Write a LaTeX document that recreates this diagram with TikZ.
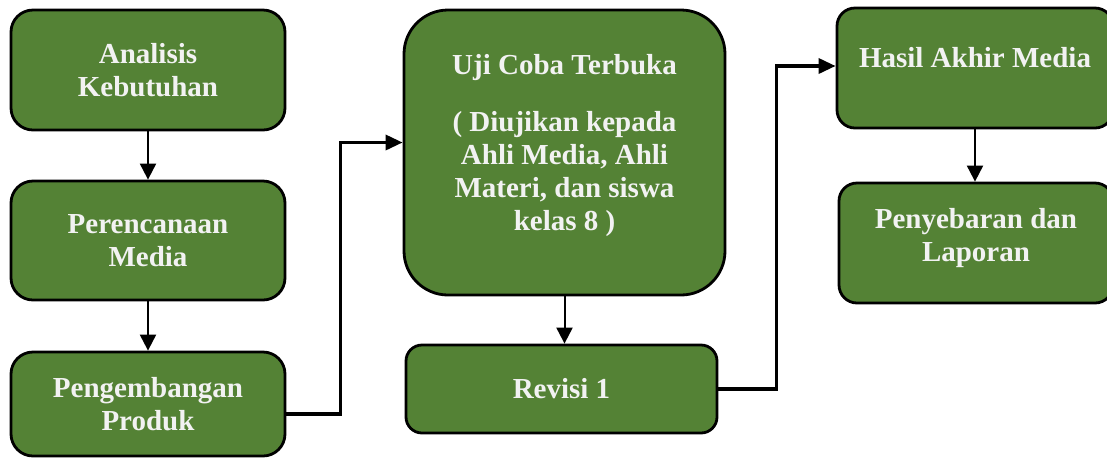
\documentclass[tikz,border=0pt]{standalone}
\usepackage{fontspec}
\setmainfont{Liberation Serif}
\usetikzlibrary{arrows.meta}
\definecolor{boxgreen}{HTML}{548235}
\begin{document}
\begin{tikzpicture}
  [x=0.5pt,y=-0.5pt,
   every node/.style={draw=black,line width=1.4pt,fill=boxgreen,
     text=white!95!black,font=\fontsize{14.5}{16.5}\selectfont\bfseries,
     align=center,inner sep=0pt,rounded corners=11pt},
   thin arrow/.style={line width=1pt,-{Triangle[width=8pt,length=8pt]}},
   thick arrow/.style={line width=1.7pt,-{Triangle[width=7.5pt,length=8.5pt]}}]
\useasboundingbox (0,0) rectangle (1107,457);
\node (ana)[minimum width=137pt,minimum height=60pt] at (148,70) {Analisis\\Kebutuhan};
  \node (ren)[minimum width=137pt,minimum height=59.5pt] at (148,240.5) {Perencanaan\\Media};
  \node (pen)[minimum width=137pt,minimum height=52pt] at (148,404) {Pengembangan\\Produk};
  \node (uji)[minimum width=160.5pt,minimum height=142.5pt,rounded corners=22pt] at (564.5,152.5)
    {Uji Coba Terbuka\\[12pt]( Diujikan kepada\\Ahli Media, Ahli\\Materi, dan siswa\\kelas 8 )\\[-6pt]\mbox{}};
  \node (rev)[minimum width=155.5pt,minimum height=44pt,rounded corners=8pt] at (561.5,389) {Revisi 1};
  \node (has)[minimum width=138pt,minimum height=60pt,rounded corners=9pt] at (975,68) {Hasil Akhir Media\\[-6pt]\mbox{}};
  \node (pny)[minimum width=137pt,minimum height=60pt,rounded corners=9pt] at (976,243) {Penyebaran dan\\Laporan\\[-8pt]\mbox{}};

 \foreach \from/\to in {ana/ren,ren/pen,uji/rev,has/pny}
    \draw[thin arrow] (\from.south) -- (\from.south |- \to.north);
 \draw[thick arrow] ([yshift=-5pt]pen.east) -| ([xshift=-31pt,yshift=5pt]uji.west) -- ([yshift=5pt]uji.west);
 \draw[thick arrow] (rev.east) -| ([xshift=-29.5pt,yshift=1pt]has.west) -- ([yshift=1pt]has.west);
\end{tikzpicture}
\end{document}
